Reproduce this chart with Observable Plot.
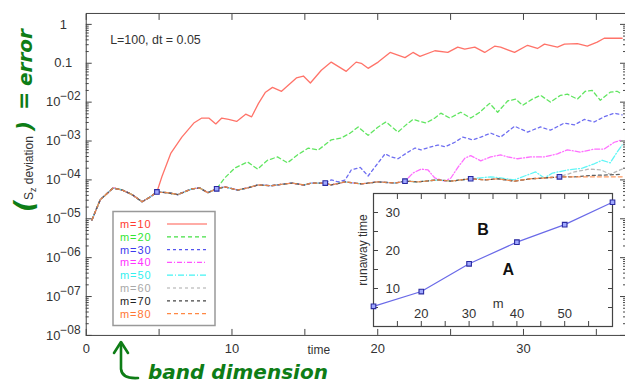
<!DOCTYPE html>
<html><head><meta charset="utf-8">
<script src="https://cdn.jsdelivr.net/npm/d3@7"></script>
<script src="https://cdn.jsdelivr.net/npm/@observablehq/plot@0.6"></script>
<style>
html,body{margin:0;padding:0;background:#fff;overflow:hidden}
#wrap{position:relative;width:625px;height:390px;overflow:hidden;font-family:"Liberation Sans",Arial,sans-serif}
#wrap > svg, #wrap > div{position:absolute}
</style></head>
<body><div id="wrap"></div>
<script>
// ---------- data ----------
const bandDim = [10, 20, 30, 40, 50, 60, 70, 80];
const legendLabels = ["m=10", "m=20", "m=30", "m=40", "m=50", "m=60", "m=70", "m=80"];
const lineColors = ["#ff5a4f", "#44e044", "#5555ee", "#ff55ff", "#44f4f4", "#aaaaaa", "#444444", "#ff8844"];
const labelColors = ["#ff3b30", "#33e633", "#3a3aee", "#ff33ff", "#33f0f0", "#a8a8a8", "#222222", "#ff7733"];
const dashes = [null, "4,3", "3,3", "5,2,1,2", "6,2,1,2", "3,3", "3,3", "4,3"];

// common (pre-runaway) error curve
const baseT = [0.39, 0.96, 1.85, 2.46, 3.14, 3.83, 4.37, 4.85, 5.54, 6.29, 7.25, 7.79, 8.34, 8.95, 9.50, 10.39, 11.07, 11.76, 12.71, 14.11, 14.97, 15.45, 16.40, 16.81, 17.77, 18.87, 20.03, 21.19, 21.87, 22.76, 24.13, 25.02, 26.38, 27.34, 28.23, 29.39, 30.49, 31.44, 32.47, 33.49, 34.59, 35.95, 36.77];
const baseErr = [9.3e-6, 3.1e-5, 6.2e-5, 5.5e-5, 4.2e-5, 2.75e-5, 3.6e-5, 4.9e-5, 4.7e-5, 4.2e-5, 5.9e-5, 6.2e-5, 4.7e-5, 5.9e-5, 6.6e-5, 5.5e-5, 6.2e-5, 7.4e-5, 7.1e-5, 8.3e-5, 7.4e-5, 8.3e-5, 8.3e-5, 7.4e-5, 8.9e-5, 7.9e-5, 8.9e-5, 8.3e-5, 9.3e-5, 8.9e-5, 1.0e-4, 9.3e-5, 1.07e-4, 1.0e-4, 1.07e-4, 9.3e-5, 1.07e-4, 1.12e-4, 1.2e-4, 1.2e-4, 1.2e-4, 1.2e-4, 1.2e-4];

// after-runaway parts for each m
const t10 = [4.85, 5.19, 5.81, 6.56, 7.38, 7.93, 8.41, 8.89, 9.30, 9.77, 10.32, 10.94, 11.35, 11.82, 12.30, 12.78, 13.40, 13.88, 14.42, 14.90, 15.38, 16.13, 16.81, 17.84, 18.52, 18.87, 19.34, 20.03, 20.85, 21.87, 22.42, 22.90, 23.92, 24.81, 25.49, 25.97, 26.66, 27.34, 28.02, 28.43, 29.39, 30.28, 30.96, 31.44, 32.33, 32.81, 33.70, 34.38, 35.06, 35.54, 36.77];
const e10 = [4.9e-5, 1.2e-4, 4.9e-4, 1.26e-3, 2.9e-3, 3.9e-3, 3.9e-3, 2.75e-3, 3.9e-3, 3.6e-3, 3.2e-3, 4.9e-3, 4.2e-3, 9.3e-3, 0.018, 0.024, 0.019, 0.0275, 0.042, 0.047, 0.031, 0.066, 0.107, 0.062, 0.107, 0.10, 0.074, 0.107, 0.19, 0.14, 0.19, 0.15, 0.21, 0.19, 0.26, 0.23, 0.26, 0.19, 0.275, 0.26, 0.19, 0.29, 0.24, 0.31, 0.26, 0.31, 0.32, 0.275, 0.35, 0.44, 0.44];
const t20 = [8.95, 9.50, 10.18, 11.07, 11.76, 12.44, 13.12, 13.81, 14.49, 15.24, 15.93, 16.81, 17.50, 18.11, 18.66, 19.34, 20.03, 20.57, 21.39, 21.94, 22.42, 23.31, 23.92, 24.33, 24.95, 25.70, 26.38, 27.00, 27.68, 28.23, 28.91, 29.46, 29.94, 30.62, 31.17, 31.85, 32.54, 33.01, 33.70, 34.24, 34.72, 35.27, 35.95, 36.43, 36.77];
const e20 = [5.9e-5, 1.12e-4, 2.0e-4, 2.9e-4, 1.9e-4, 3.2e-4, 3.9e-4, 2.75e-4, 4.4e-4, 6.6e-4, 5.9e-4, 1.07e-3, 1.2e-3, 1.6e-3, 2.3e-3, 1.4e-3, 2.3e-3, 3.1e-3, 1.7e-3, 2.6e-3, 3.6e-3, 2.9e-3, 3.9e-3, 5.2e-3, 3.9e-3, 5.5e-3, 3.9e-3, 5.5e-3, 9.3e-3, 5.5e-3, 0.0107, 0.012, 8.3e-3, 0.012, 0.015, 0.010, 0.015, 0.016, 0.012, 0.019, 0.020, 0.0112, 0.018, 0.019, 0.016];
const t30 = [16.40, 16.81, 17.29, 17.77, 18.18, 18.80, 19.34, 20.03, 20.51, 20.92, 21.39, 22.08, 22.56, 22.97, 23.65, 24.13, 24.61, 25.29, 25.84, 26.52, 27.07, 27.75, 28.43, 29.39, 30.28, 31.17, 31.85, 32.81, 33.49, 34.18, 34.86, 35.54, 36.23, 36.77];
const e30 = [8.3e-5, 1.0e-4, 8.9e-5, 1.0e-4, 1.8e-4, 2.1e-4, 1.26e-4, 2.75e-4, 4.7e-4, 3.9e-4, 3.5e-4, 5.2e-4, 6.6e-4, 5.9e-4, 7.1e-4, 7.9e-4, 7.1e-4, 9.3e-4, 1.26e-3, 1.07e-3, 1.26e-3, 1.6e-3, 1.26e-3, 2.4e-3, 1.7e-3, 2.3e-3, 1.9e-3, 2.9e-3, 2.6e-3, 3.6e-3, 3.1e-3, 4.2e-3, 5.2e-3, 4.7e-3];
const t40 = [21.87, 22.42, 22.97, 23.45, 23.92, 24.61, 25.02, 25.50, 25.97, 26.38, 27.07, 27.75, 28.43, 28.91, 29.60, 30.49, 31.44, 32.33, 33.01, 33.90, 34.86, 35.54, 36.23, 36.77];
const e40 = [9.3e-5, 1.5e-4, 1.9e-4, 1.8e-4, 1.12e-4, 9.3e-5, 1.12e-4, 2.1e-4, 3.6e-4, 4.2e-4, 3.1e-4, 3.9e-4, 4.4e-4, 3.9e-4, 3.5e-4, 3.9e-4, 3.9e-4, 4.7e-4, 5.9e-4, 5.2e-4, 6.2e-4, 6.2e-4, 9.3e-4, 1.07e-3];
const t50 = [26.38, 27.75, 28.43, 29.39, 30.08, 30.83, 31.44, 31.99, 33.01, 34.04, 34.86, 35.41, 35.95, 36.43, 36.77];
const e50 = [1.07e-4, 1.2e-4, 1.12e-4, 1.0e-4, 1.26e-4, 1.6e-4, 1.12e-4, 1.5e-4, 1.8e-4, 2.0e-4, 2.6e-4, 3.2e-4, 2.75e-4, 5.2e-4, 7.9e-4];
const t60 = [32.47, 33.49, 34.50, 35.30, 35.95, 36.77];
const e60 = [1.2e-4, 1.6e-4, 1.9e-4, 1.8e-4, 1.4e-4, 1.9e-4];
const t70 = [33.49, 34.59, 35.95, 36.77];
const e70 = [1.2e-4, 1.3e-4, 1.35e-4, 1.4e-4];
const t80 = [];
const e80 = [];

// runaway markers (main plot)
const runawayTime = [4.85, 8.95, 16.40, 21.87, 26.38, 32.47];
const runawayErr = [4.9e-5, 5.9e-5, 8.3e-5, 9.3e-5, 1.07e-4, 1.2e-4];

// inset: runaway time vs m
const insetM = [10, 20, 30, 40, 50, 60];
const insetRunaway = [5.3, 9.2, 16.5, 22.2, 26.8, 32.7];

// ticks
const xTickValues = [0, 10, 20, 30];
const xTickLabels = ["0", "10", "20", "30"];
const xMinorTicks = [0, 5, 10, 15, 20, 25, 30, 35];
const yTickValues = [1e-8, 1e-7, 1e-6, 1e-5, 1e-4, 1e-3, 1e-2, 0.1, 1];
const yTickLabels = ["10^−08", "10^−07", "10^−06", "10^−05", "10^−04", "10^−03", "10^−02", "0.1", "1"];
const minorMult = [2, 3, 4, 5, 6, 7, 8, 9];
const insetXTicks = [20, 30, 40, 50];
const insetXMinor = [10, 15, 20, 25, 30, 35, 40, 45, 50, 55, 60];
const insetYTicks = [10, 20, 30];
const insetYMinor = [5, 10, 15, 20, 25, 30, 35];

// ---------- build ----------
const growthT = [t10, t20, t30, t40, t50, t60, t70, t80];
const growthE = [e10, e20, e30, e40, e50, e60, e70, e80];
const series = bandDim.map((m, i) => {
  const start = growthT[i].length ? growthT[i][0] : Infinity;
  const pts = baseT.map((t, j) => ({t, e: baseErr[j]})).filter(d => d.t < start);
  growthT[i].forEach((t, j) => pts.push({t, e: growthE[i][j]}));
  return pts;
});
const yMinor = [];
yTickValues.slice(0, -1).forEach(p => minorMult.forEach(k => yMinor.push(k * p)));
const markers = runawayTime.map((t, i) => ({t, e: runawayErr[i]}));
const insetPts = insetM.map((m, i) => ({m, r: insetRunaway[i]}));

const font = "Liberation Sans, Arial, Helvetica, sans-serif";
const axisCol = "#444";

const wrap = document.getElementById("wrap");

const main = Plot.plot({
  width: 627, height: 390,
  marginLeft: 86, marginTop: 13, marginBottom: 54, marginRight: 0,
  style: {fontFamily: font, fontSize: "13px", color: "#333", background: "transparent", overflow: "visible"},
  x: {domain: [0, 37]},
  y: {type: "log", domain: [1e-8, 1.91]},
  marks: [
    Plot.frame({stroke: axisCol, strokeWidth: 1}),
    Plot.axisX({ticks: xTickValues, tickSize: 0, tickPadding: 8, label: null,
      tickFormat: d => xTickLabels[xTickValues.indexOf(d)]}),
    Plot.axisX({anchor: "bottom", ticks: xMinorTicks, tickSize: -6, text: null, label: null, stroke: axisCol}),
    Plot.axisX({anchor: "top", ticks: xMinorTicks, tickSize: -6, text: null, label: null, stroke: axisCol}),
    Plot.axisY({ticks: yTickValues, tickSize: 0, tickPadding: 23, textAnchor: "middle", label: null,
      tickFormat: d => yTickLabels[yTickValues.indexOf(d)]}),
    Plot.axisY({anchor: "left", ticks: yTickValues, tickSize: -6, text: null, label: null, stroke: axisCol}),
    Plot.axisY({anchor: "left", ticks: yMinor, tickSize: -3, text: null, label: null, stroke: axisCol}),
    Plot.axisY({anchor: "right", ticks: yTickValues, tickSize: -6, text: null, label: null, stroke: axisCol}),
    Plot.axisY({anchor: "right", ticks: yMinor, tickSize: -3, text: null, label: null, stroke: axisCol}),
    ...series.map((pts, i) => Plot.line(pts, {x: "t", y: "e", stroke: lineColors[i], strokeWidth: 1.3,
      strokeOpacity: 0.85, strokeDasharray: dashes[i], clip: true})),
    Plot.dot(markers, {x: "t", y: "e", symbol: "square", r: 2.6, stroke: "#2a2aa0", fill: "#9fa8ff", strokeWidth: 1.1}),
    Plot.text(["L=100, dt = 0.05"], {frameAnchor: "top-left", dx: 24, dy: 22, textAnchor: "start", fontSize: 12.5, fill: "#333"}),
    Plot.text(["time"], {frameAnchor: "bottom-left", dx: 222, dy: 19, fontSize: 12, fill: "#333"})
  ]
});
main.style.left = "0px"; main.style.top = "0px";
wrap.appendChild(main);

// superscript exponents on the log axis labels
d3.select(main).selectAll("text").each(function () {
  const s = this.textContent;
  const mm = s.match(/^10\^(.+)$/);
  if (mm) {
    const sel = d3.select(this);
    sel.text("");
    sel.append("tspan").text("10");
    sel.append("tspan").attr("dy", "-0.5em").attr("font-size", "12px").text(mm[1]);
  }
});

// inset
const inset = Plot.plot({
  width: 260, height: 143,
  marginLeft: 18, marginTop: 8, marginRight: 3, marginBottom: 2,
  style: {fontFamily: font, fontSize: "13px", color: "#333", background: "transparent", overflow: "visible"},
  x: {domain: [10, 60]},
  y: {domain: [0, 35]},
  marks: [
    Plot.frame({fill: "white", stroke: axisCol, strokeWidth: 1.2}),
    Plot.axisX({anchor: "bottom", ticks: insetXMinor, tickSize: -5, text: null, label: null, stroke: axisCol}),
    Plot.axisX({anchor: "top", ticks: insetXMinor, tickSize: -5, text: null, label: null, stroke: axisCol}),
    Plot.axisY({anchor: "left", ticks: insetYMinor, tickSize: -5, text: null, label: null, stroke: axisCol}),
    Plot.axisY({anchor: "right", ticks: insetYMinor, tickSize: -5, text: null, label: null, stroke: axisCol}),
    Plot.text(insetXTicks, {x: d => d, text: d => String(d), frameAnchor: "bottom", dy: -9, fill: "#333"}),
    Plot.text(insetYTicks, {y: d => d, text: d => String(d), frameAnchor: "left", dx: 12, fill: "#333"}),
    Plot.text(["m"], {x: [36.1], y: [6.0], text: d => d, fontSize: 13, fill: "#333"}),
    Plot.text(["B", "A"], {x: [32.9, 38.2], y: [25.3, 15.0], text: d => d, fontSize: 16, fontWeight: "bold", fill: "#111"}),
    Plot.line(insetPts, {x: "m", y: "r", stroke: "#6a6ae8", strokeWidth: 1.2}),
    Plot.dot(insetPts, {x: "m", y: "r", symbol: "square", r: 2.6, stroke: "#2a2aa0", fill: "#9fa8ff", strokeWidth: 1.1})
  ]
});
inset.style.left = "355px"; inset.style.top = "185px";
wrap.appendChild(inset);

// legend
const leg = d3.select(wrap).append("svg").attr("width", 104).attr("height", 117)
  .style("left", "112px").style("top", "210px");
leg.append("rect").attr("x", 1).attr("y", 1.5).attr("width", 102).attr("height", 114)
  .attr("fill", "white").attr("stroke", "#999").attr("stroke-width", 1.5);
legendLabels.forEach((lab, i) => {
  const y = 14 + i * 12.8;
  leg.append("text").attr("x", 8).attr("y", y).attr("dy", "0.36em").attr("fill", labelColors[i])
    .attr("font-family", font).attr("font-size", 11).attr("letter-spacing", "0.9px").text(lab);
  leg.append("line").attr("x1", 55).attr("x2", 95).attr("y1", y).attr("y2", y)
    .attr("stroke", lineColors[i]).attr("stroke-width", 1.2).attr("stroke-dasharray", dashes[i]);
});

// axis titles and handwritten annotations
const ov = d3.select(wrap).append("svg").attr("width", 625).attr("height", 390)
  .style("left", "0px").style("top", "0px").style("pointer-events", "none");
const yl = ov.append("text").attr("transform", "translate(33,200) rotate(-90)")
  .attr("font-family", font).attr("font-size", 12).attr("fill", "#333");
yl.append("tspan").text("S");
yl.append("tspan").attr("dy", 3).attr("font-size", 9).text("z");
yl.append("tspan").attr("dy", -3).text(" deviation");
ov.append("text").attr("transform", "translate(367,250) rotate(-90)")
  .attr("text-anchor", "middle").attr("font-family", font).attr("font-size", 12).attr("fill", "#333")
  .text("runaway time");
const green = "#0e7d16";
const hw = {"font-family": "DejaVu Sans", "font-style": "italic", "font-weight": "bold", fill: green};
function hwText(txt, tr, size) {
  const t = ov.append("text").attr("transform", tr).attr("font-size", size).text(txt);
  Object.entries(hw).forEach(([k, v]) => t.attr(k, v));
  return t;
}
hwText("(", "translate(33,212) rotate(-90)", 26);
hwText(")", "translate(32,131) rotate(-90)", 22);
hwText("=", "translate(31,110) rotate(-90)", 22);
hwText("error", "translate(32,86) rotate(-90)", 20);
hwText("band dimension", "translate(148,379)", 20);
ov.append("path").attr("d", "M121,344 L121,369 Q122,379 138,378")
  .attr("fill", "none").attr("stroke", green).attr("stroke-width", 2.6).attr("stroke-linecap", "round");
ov.append("path").attr("d", "M114,353 L121,342 L128,353")
  .attr("fill", "none").attr("stroke", green).attr("stroke-width", 2.6).attr("stroke-linecap", "round").attr("stroke-linejoin", "round");
</script>
</body></html>
